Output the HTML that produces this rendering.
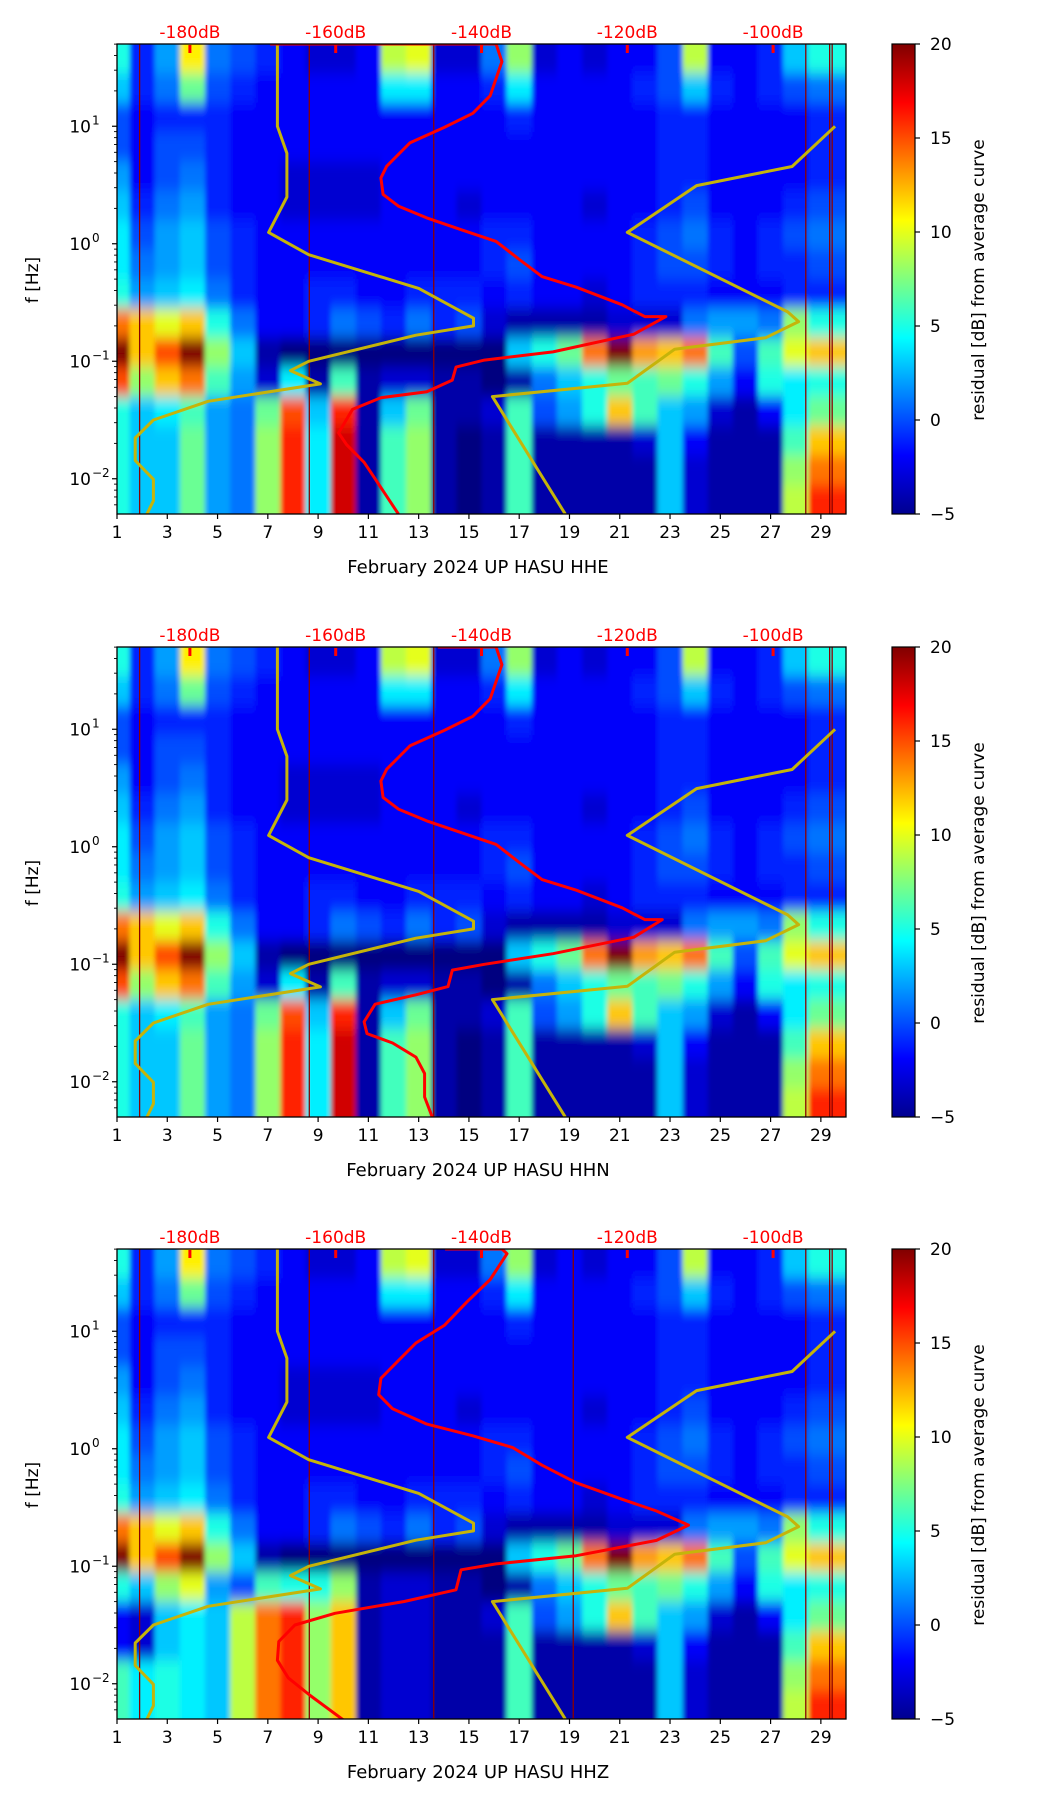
<!DOCTYPE html>
<html><head><meta charset="utf-8">
<style>
html,body{margin:0;padding:0;background:#fff;}
svg{display:block;}
text{font-family:"DejaVu Sans","Liberation Sans",sans-serif;}
</style></head>
<body>
<svg id="fig" width="1052" height="1806" viewBox="0 0 1052 1806" xmlns="http://www.w3.org/2000/svg">
<defs>
<filter id="blur" x="-5%" y="-5%" width="110%" height="110%"><feGaussianBlur stdDeviation="2.5 7"/></filter>
<linearGradient id="jetgrad" x1="0" y1="1" x2="0" y2="0">
<stop offset="0" stop-color="#00008f"/><stop offset="0.125" stop-color="#0000ff"/>
<stop offset="0.375" stop-color="#00ffff"/><stop offset="0.625" stop-color="#ffff00"/>
<stop offset="0.875" stop-color="#ff0000"/><stop offset="1" stop-color="#800000"/>
</linearGradient>
</defs>
</svg>
<script>
// ---- data ----
const days = [1,2,3,4,5,6,7,8,9,10,11,12,13,14,15,16,17,18,19,20,21,22,23,24,25,26,27,28,29];
const bandTopLog = [1.7,1.45,1.2,0.95,0.7,0.45,0.2,-0.05,-0.3,-0.55,-0.8,-1.05,-1.3,-1.55,-1.8,-2.05];
const xTicks = [1,3,5,7,9,11,13,15,17,19,21,23,25,27,29];
const yTickExp = [1,0,-1,-2];
const cbTicks = [20,15,10,5,0,-5];
const dbTicks = [-180,-160,-140,-120,-100];
const titles = ["February 2024 UP HASU  HHE","February 2024 UP HASU  HHN","February 2024 UP HASU  HHZ"];

const grid1 = [
[5,-1,2,11,1,0,-1,-2,-3,-3,-2,9,10,-3,-3,1,8,-3,-2,-3,-2,-2,0,9,-2,-2,-1,3,5],
[3,-1,1,7,0,-1,-2,-2,-2,-2,-2,4,4,-2,-2,-1,4,-2,-2,-2,-2,-1,0,3,-1,-2,-1,0,1],
[0,-2,-1,-1,-1,-2,-2,-2,-2,-2,-2,-2,-2,-2,-2,-2,-1,-2,-2,-2,-2,-2,-1,-1,-2,-2,-2,-2,-1],
[0,-2,0,0,-1,-2,-2,-2,-2,-2,-2,-2,-2,-2,-2,-2,-2,-2,-2,-2,-2,-2,-1,-1,-2,-2,-2,-2,-1],
[2,-2,0,1,-1,-2,-2,-3,-3,-3,-3,-2,-2,-2,-2,-2,-2,-2,-2,-2,-2,-2,-1,-1,-2,-2,-2,-2,-1],
[3,-1,1,2,-1,-2,-2,-3,-3,-3,-3,-2,-2,-2,-3,-2,-2,-2,-2,-3,-2,-2,-1,0,-2,-2,-2,-1,0],
[4,0,2,3,0,-1,-2,-2,-2,-2,-2,-2,-2,-2,-2,-1,-1,-2,-2,-2,-2,-1,0,1,-1,-2,-1,0,1],
[4,1,2,3,0,-1,-2,-2,-2,-2,-2,-2,-2,-2,-2,-1,0,-2,-2,-2,-2,-1,0,0,-1,-2,-1,-1,0],
[5,2,3,4,1,-1,-2,-2,-1,-1,-2,-2,-1,-1,-1,-2,-1,-2,-2,-3,-2,-1,-1,-1,-2,-2,-2,-1,-1],
[14,12,10,12,5,1,-2,-2,-1,1,0,-1,1,-1,0,-3,-4,-4,-4,-4,-3,-3,-3,1,2,2,1,8,5],
[20,12,15,20,8,3,-4,-5,-5,-5,-5,-5,-5,-5,-5,-5,3,5,7,14,20,13,12,14,6,0,6,10,12],
[15,8,12,14,6,2,-3,4,-4,6,-4,-3,-3,-4,-4,-5,-4,1,3,5,7,6,7,5,2,-2,5,4,5],
[5,3,4,6,2,1,7,15,3,16,-4,3,7,-4,-4,-3,6,0,2,5,12,6,3,2,-3,-4,-2,4,7],
[5,3,3,7,2,1,8,16,4,18,-4,6,8,-4,-5,-4,6,-4,-4,-4,-4,-3,3,-2,-4,-4,-4,6,12],
[5,3,3,7,2,1,8,16,4,18,-4,6,8,-4,-5,-4,6,-4,-4,-4,-4,-4,3,-3,-4,-4,-4,8,14],
[5,3,3,7,2,1,8,16,4,18,-4,6,8,-4,-5,-4,6,-4,-4,-4,-4,-4,3,-3,-4,-4,-4,9,16]
];
// HHZ low-frequency bands (rows 11..15), days 1..15
const grid3Low = [
[5,3,8,10,2,0,6,5,5,8,-4,-3,-3,-4,-4],
[-2,-3,3,4,3,9,14,16,8,12,-4,-3,-3,-4,-4],
[-2,-3,3,4,3,9,14,16,8,12,-4,-3,-3,-4,-4],
[6,4,5,4,3,9,14,16,8,12,-4,-3,-3,-4,-4],
[6,4,5,4,3,9,14,16,8,12,-4,-3,-3,-4,-4]
];

// Peterson noise models (period s, dB)
const nlnmPeriod = [0.02,0.1,0.17,0.4,0.8,1.24,2.4,4.3,5,6,10,12,15.6,21.9,31.6,45,70,101,154,200];
const nlnmDb =     [-168,-168,-166.7,-166.7,-169.2,-163.7,-148.6,-141.1,-141.1,-149.0,-163.7,-166.2,-162.1,-177.5,-185,-187.5,-187.5,-185,-185,-185.9];
const nhnmPeriod = [0.1,0.22,0.32,0.8,3.8,4.6,6.3,7.9,15.4,20,200];
const nhnmDb =     [-91.5,-97.4,-110.5,-120,-98,-96.5,-101,-113.5,-120,-138.5,-128.5];

// average PSD curves (dB, log10 f)
const red1Db = [-169,-138,-137.2,-138.8,-141.2,-145.1,-149.8,-151.4,-153,-153.8,-153.5,-151.4,-147.5,-142.8,-138,-134.9,-131.7,-127,-120.7,-117.6,-114.7,-119.1,-130.2,-139.6,-143.5,-144,-147.5,-153.8,-157.7,-159.6,-158.5,-156.1,-154.6,-151.4];
const red1Log = [1.7,1.7,1.55,1.26,1.11,0.99,0.86,0.76,0.66,0.56,0.42,0.32,0.22,0.12,0.02,-0.13,-0.28,-0.37,-0.52,-0.62,-0.62,-0.77,-0.92,-0.99,-1.05,-1.16,-1.26,-1.31,-1.41,-1.61,-1.71,-1.86,-2.0,-2.3];
const red2Db = [-146,-138,-137.2,-138.8,-141.2,-145.1,-149.8,-151.4,-153,-153.8,-153.5,-151.4,-147.5,-142.8,-138,-134.9,-131.7,-127,-120.7,-117.6,-115.2,-119.1,-130.2,-139.6,-144,-144.6,-149,-154.6,-156.1,-155.7,-152.2,-149,-147.8,-147.8,-146.7];
const red2Log = [1.7,1.7,1.55,1.26,1.11,0.99,0.86,0.76,0.66,0.56,0.42,0.32,0.22,0.12,0.02,-0.13,-0.28,-0.37,-0.52,-0.62,-0.62,-0.77,-0.91,-1.0,-1.05,-1.19,-1.26,-1.34,-1.49,-1.59,-1.67,-1.79,-1.93,-2.13,-2.31];
const red3Db = [-145,-137.2,-136.5,-138.8,-142,-145.1,-149,-151.4,-153.8,-154.1,-152.2,-147.5,-141.2,-135.7,-131.7,-127,-120.7,-116,-111.6,-116,-127,-138,-142.8,-143.5,-150.6,-160.1,-165.6,-167.8,-168,-166.5,-163.5,-158.9];
const red3Log = [1.7,1.7,1.66,1.44,1.25,1.05,0.9,0.75,0.6,0.46,0.34,0.21,0.11,0.01,-0.14,-0.29,-0.43,-0.53,-0.65,-0.78,-0.91,-0.98,-1.03,-1.2,-1.3,-1.4,-1.5,-1.64,-1.8,-1.95,-2.1,-2.31];

const vlines1 = [1.9,8.65,13.6,28.4,29.35,29.45];
const vlines3 = [1.9,8.65,13.6,19.15,28.4,29.35,29.45];

// ---- layout ----
const NS = "http://www.w3.org/2000/svg";
const svg = document.getElementById('fig');
const L = 117, W = 729, H = 470;
const tops = [44, 647, 1249];
const CBX = 892, CBW = 23;
function el(tag, attrs, parent){const e=document.createElementNS(NS,tag);for(const k in attrs)e.setAttribute(k,attrs[k]);(parent||svg).appendChild(e);return e;}
function jet(v){let t=(v+5)/25;t=Math.max(0,Math.min(1,t));
 const c=x=>Math.round(255*Math.max(0,Math.min(1,1.5-Math.abs(4*t-x))));
 return `rgb(${c(3)},${c(2)},${c(1)})`;}

function panel(p){
 const T = tops[p];
 const xs = d => L + (d-1)/29*W;
 const ys = lg => T + (1.7-lg)/4*H;
 const xdb = db => L + (db+190)/100*W;
 const g = el('g',{});
 const cp = el('clipPath',{id:'clip'+p},g);
 el('rect',{x:L,y:T,width:W,height:H},cp);
 const plot = el('g',{'clip-path':`url(#clip${p})`},g);
 
 
 el('rect',{x:L,y:T,width:W,height:H,fill:'#00008f'},plot);
 const hm = el('g',{filter:'url(#blur)'},plot);
 
 
 for(let r=0;r<bandTopLog.length;r++){
  for(let c=0;c<days.length;c++){
   let v = grid1[r][c];
   if(p===2 && r>=11 && c<15) v = grid3Low[r-11][c];
   let x0 = xs(days[c]-0.5), x1 = xs(days[c]+0.5);
   let y0 = ys(bandTopLog[r]), y1 = ys(bandTopLog[r]-0.25);
   if(c===0) x0-=20; if(c===days.length-1) x1+=40;
   if(r===0) y0-=20; if(r===bandTopLog.length-1) y1+=20;
   const rc = el('rect',{x:x0,y:y0,width:x1-x0+0.5,height:y1-y0+0.5,fill:jet(v)},hm);
   
   
  }
 }
 const vl = p===2?vlines3:vlines1;
 vl.forEach(d=>{const ln=el('line',{x1:xs(d),x2:xs(d),y1:T,y2:T+H,stroke:'#8b0000','stroke-width':1.3},plot);
  });
 // noise models
 const nm = (per,db)=>per.map((P,i)=>`${xdb(db[i]).toFixed(1)},${ys(-Math.log10(P)).toFixed(1)}`).join(' ');
 const nl = el('polyline',{points:nm(nlnmPeriod,nlnmDb),fill:'none',stroke:'#c5b40a','stroke-width':3,'stroke-linejoin':'round'},plot);
 
 const nh = el('polyline',{points:nm(nhnmPeriod,nhnmDb),fill:'none',stroke:'#c5b40a','stroke-width':3,'stroke-linejoin':'round'},plot);
 
 const rd=[red1Db,red2Db,red3Db][p], rl=[red1Log,red2Log,red3Log][p];
 const rp = el('polyline',{points:rd.map((d,i)=>`${xdb(d).toFixed(1)},${ys(rl[i]).toFixed(1)}`).join(' '),fill:'none',stroke:'#ff0000','stroke-width':3,'stroke-linejoin':'round'},plot);
 
 // frame
 el('rect',{x:L,y:T,width:W,height:H,fill:'none',stroke:'#000','stroke-width':1.3},g);
 // x ticks
 xTicks.forEach(d=>{const x=xs(d);
  el('line',{x1:x,x2:x,y1:T+H,y2:T+H+5,stroke:'#000','stroke-width':1.2},g);
  const t=el('text',{x:x,y:T+H+24,'font-size':17,'text-anchor':'middle',fill:'#000'},g);t.textContent=d;
  });
 const xt=el('text',{x:478,y:T+H+59,'font-size':18,'text-anchor':'middle',fill:'#000'},g);
 xt.textContent=titles[p];
 // y ticks
 for(let e=-3;e<=1;e++){for(let k=1;k<10;k++){const lg=e+Math.log10(k);if(lg<-2.301||lg>1.7)continue;
  const y=ys(lg);el('line',{x1:L-(k===1?5:3),x2:L,y1:y,y2:y,stroke:'#000','stroke-width':k===1?1.2:0.9},g);}}
 yTickExp.forEach(e=>{const y=ys(e);
  const t=el('text',{x:L-26,y:y+6,'font-size':17,'text-anchor':'end',fill:'#000'},g);t.textContent='10';
  
  const s=el('text',{x:L-25,y:y-2,'font-size':12,'text-anchor':'start',fill:'#000'},g);s.textContent=e<0?'\u2212'+(-e):''+e;});
 const yt=el('text',{x:38,y:T+236,'font-size':17,'text-anchor':'middle',fill:'#000',transform:`rotate(-90 38 ${T+236})`},g);
 yt.textContent='f [Hz]';
 // top dB axis
 dbTicks.forEach(db=>{const x=xdb(db);
  el('rect',{x:x-1.5,y:T+1,width:3,height:8,fill:'#ff0000'},g);
  const t=el('text',{x:x,y:T-6,'font-size':17,'text-anchor':'middle',fill:'#ff0000'},g);t.textContent=db+'dB';
  });
 // colorbar
 const cb=el('rect',{x:CBX,y:T,width:CBW,height:H,fill:'url(#jetgrad)',stroke:'#000','stroke-width':1.2},g);
 
 cbTicks.forEach(v=>{const y=T+(20-v)/25*H;
  el('line',{x1:CBX+CBW,x2:CBX+CBW+5,y1:y,y2:y,stroke:'#000','stroke-width':1.2},g);
  const t=el('text',{x:CBX+CBW+15,y:y+6,'font-size':17,fill:'#000'},g);t.textContent=v<0?'\u2212'+(-v):v;
  });
 const ct=el('text',{x:984,y:T+236,'font-size':17,'text-anchor':'middle',fill:'#000',transform:`rotate(-90 984 ${T+236})`},g);
 ct.textContent='residual [dB] from average curve';
}
[0,1,2].forEach(panel);
</script>
</body></html>
